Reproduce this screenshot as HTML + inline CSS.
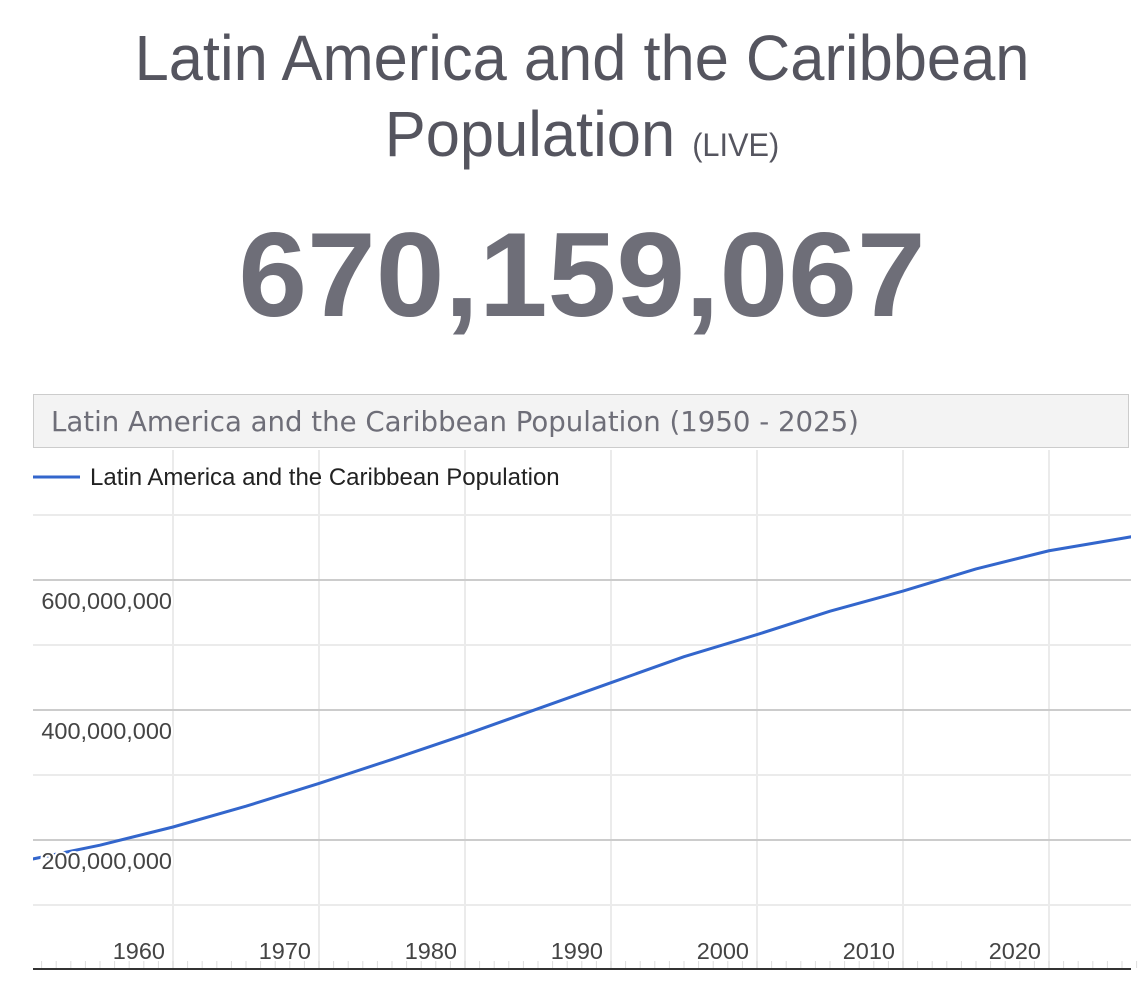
<!DOCTYPE html>
<html><head><meta charset="utf-8"><style>
body{margin:0;width:1148px;height:990px;background:#fff;overflow:hidden;font-family:"Liberation Sans",sans-serif}
.t1{position:absolute;left:8px;width:1148px;text-align:center;color:#55555f;font-family:"Liberation Sans Narrow","Liberation Sans",sans-serif;font-weight:300}
</style></head><body>
<div class="t1" style="top:20px;font-size:64px;line-height:76px;transform:scaleX(0.96)">Latin America and the Caribbean<br>Population <span style="font-size:32px">(LIVE)</span></div>
<div class="t1" style="top:210px;font-size:120px;font-weight:bold;color:#6e6e78;line-height:130px;transform:scaleX(1.03)">670,159,067</div>
<div style="position:absolute;left:33px;top:394px;width:1096px;height:54px;background:#f3f3f3;border:1px solid #ccc;box-sizing:border-box;color:#6e6e78;line-height:54px;padding-left:17px;font-family:'DejaVu Sans',sans-serif;font-size:27.6px;white-space:nowrap">Latin America and the Caribbean Population (1950 - 2025)</div>
<svg id="chart" width="1148" height="990" style="position:absolute;left:0;top:0"></svg>
<script>
const years=[1950,1955,1960,1965,1970,1975,1980,1985,1990,1995,2000,2005,2010,2015,2020,2025,2026];
const pops=[169,192,220,252,287,324,362,402,442,482,516,552,583,617,645,664,668];
const yTicks=[200,400,600];
const xTicks=[1960,1970,1980,1990,2000,2010,2020];
const NS='http://www.w3.org/2000/svg';
const svg=document.getElementById('chart');
const L=33,R=1131;
const x=v=>173+(v-1960)*14.6;
const y=v=>970-v*0.65;
function mk(t,a){const e=document.createElementNS(NS,t);for(const k in a)e.setAttribute(k,a[k]);svg.appendChild(e);return e;}
for(const t of xTicks){const g=mk('line',{x1:x(t),x2:x(t),y1:450,y2:968,stroke:'#ebebeb','stroke-width':2});

}
for(let v=100;v<=700;v+=100){const g=mk('line',{x1:L,x2:R,y1:y(v),y2:y(v),stroke:v%200==0?'#cccccc':'#ebebeb','stroke-width':2});

}
for(let yr=1951;yr<=2026;yr++){const m=mk('line',{x1:x(yr),x2:x(yr),y1:961,y2:968,stroke:'#ddd','stroke-width':1});

}
const ax=mk('line',{x1:L,x2:R,y1:969,y2:969,stroke:'#333','stroke-width':2});


let d='';years.forEach((yr,i)=>{d+=(i?'L':'M')+x(yr)+','+y(pops[i]);});
const cp=mk('clipPath',{id:'c'});const r=document.createElementNS(NS,'rect');r.setAttribute('x',L);r.setAttribute('y',450);r.setAttribute('width',R-L);r.setAttribute('height',520);cp.appendChild(r);
const ln=mk('path',{d:d,fill:'none',stroke:'#3366cc','stroke-width':3,'clip-path':'url(#c)','stroke-linejoin':'round'});


for(const v of yTicks){const t=mk('text',{x:172,y:y(v)+29,'text-anchor':'end','font-size':23.5,fill:'#444',stroke:'#fff','stroke-width':4,'paint-order':'stroke','font-family':'Liberation Sans, sans-serif'});t.textContent=v.toLocaleString('en-US')+',000,000';

}
for(const v of xTicks){const t=mk('text',{x:x(v)-8,y:959,'text-anchor':'end','font-size':23.5,fill:'#444','font-family':'Liberation Sans, sans-serif'});t.textContent=v;

}
const lg=mk('line',{x1:33,x2:80,y1:477,y2:477,stroke:'#3366cc','stroke-width':3});


const lt=mk('text',{x:90,y:485,'font-size':24,fill:'#222','font-family':'Liberation Sans, sans-serif'});lt.textContent='Latin America and the Caribbean Population';


</script>
</body></html>
